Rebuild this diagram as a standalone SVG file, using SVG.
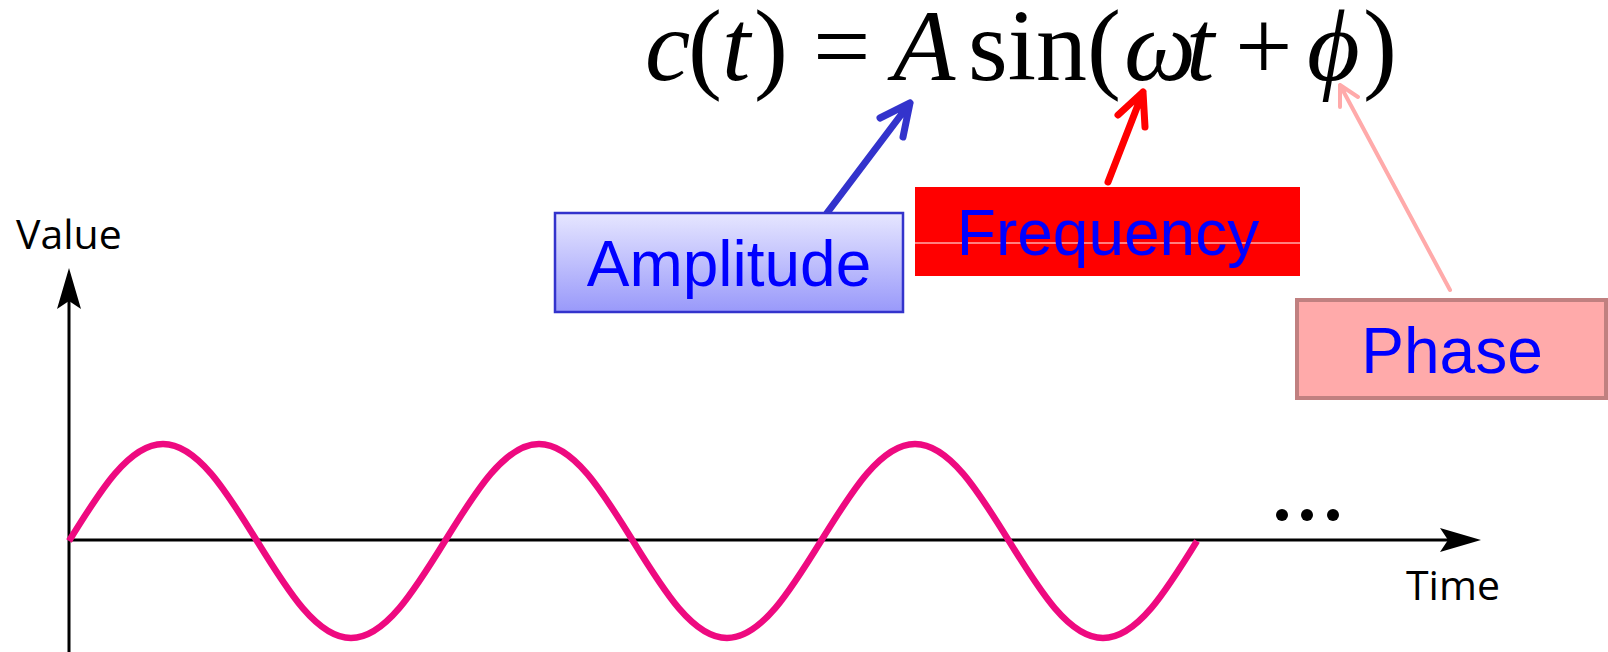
<svg xmlns="http://www.w3.org/2000/svg" width="1608" height="652" viewBox="0 0 1608 652">
<style>
.m{font-family:"Liberation Serif","DejaVu Serif",serif;font-size:102px;fill:#000}
.i{font-style:italic}
.lbl{font-family:"Liberation Sans",Arial,sans-serif;font-size:64px;fill:#0000ff;text-anchor:middle}
.ax{font-family:"Open Sans","DejaVu Sans",sans-serif;font-size:41px;fill:#000}
.axis{stroke:#000;stroke-width:3;fill:none}
.arr{fill:none;stroke-linecap:round;stroke-linejoin:round}
</style>
<defs>
<linearGradient id="gA" x1="0" y1="0" x2="0" y2="1">
<stop offset="0" stop-color="#e6e6ff"/>
<stop offset="1" stop-color="#9999fa"/>
</linearGradient>
</defs>
<rect width="1608" height="652" fill="#fff"/>
<g id="formula">
<text class="m" y="80"><tspan class="i" x="645">c</tspan><tspan x="688">(</tspan><tspan class="i" x="722">t</tspan><tspan x="754">)</tspan><tspan x="813">=</tspan><tspan class="i" x="893">A</tspan><tspan x="968">sin(</tspan><tspan class="i" x="1124">ω</tspan><tspan class="i" x="1186">t</tspan><tspan x="1235">+</tspan><tspan class="i" x="1307">ϕ</tspan><tspan x="1363">)</tspan></text>
</g>
<g id="axes">
<line class="axis" x1="69" y1="652" x2="69" y2="300"/>
<path d="M69,268 L81,309 L69,301 L57,309 Z" fill="#000"/>
<line class="axis" x1="69" y1="540" x2="1448" y2="540"/>
<path d="M1481,540 L1440,528 L1448,540 L1440,552 Z" fill="#000"/>
<text class="ax" x="16" y="249">Value</text>
<text class="ax" x="1406" y="600">Time</text>
<circle cx="1282" cy="515" r="6" fill="#000"/>
<circle cx="1307" cy="515" r="6" fill="#000"/>
<circle cx="1333" cy="515" r="6" fill="#000"/>
</g>
<g id="wave">
<path d="M69,541 c30.66,-49.69 59.98,-97 94,-97 s63.34,47.31 94,97 s59.98,97 94,97 s63.34,-47.31 94,-97 s59.98,-97 94,-97 s63.34,47.31 94,97 s59.98,97 94,97 s63.34,-47.31 94,-97 s59.98,-97 94,-97 s63.34,47.31 94,97 s59.98,97 94,97 s63.34,-47.31 94,-97" fill="none" stroke="#ee0a80" stroke-width="6.5"/>
</g>
<g id="connectors">
<path class="arr" d="M827,213 L910,103 M880,118 L910,103 L903,137" stroke="#3333cc" stroke-width="7"/>
<path class="arr" d="M1108,182 L1143,92 M1118,115 L1143,92 L1145,127" stroke="#ff0000" stroke-width="7"/>
<path class="arr" d="M1450,290 L1340,85 M1358,97 L1340,85 L1340,107" stroke="#ffaaaa" stroke-width="4"/>
</g>
<g id="amplitude">
<rect x="555" y="213" width="348" height="99" fill="url(#gA)" stroke="#3333cc" stroke-width="2.5"/>
<text class="lbl" x="729" y="286">Amplitude</text>
</g>
<g id="frequency">
<rect x="915" y="187" width="385" height="89" fill="#ff0000"/>
<line x1="915" y1="243" x2="1300" y2="243" stroke="#fff" stroke-width="1"/>
<text class="lbl" x="1108" y="255">Frequency</text>
</g>
<g id="phase">
<rect x="1297" y="300" width="309" height="98" fill="#ffaaaa" stroke="#c08080" stroke-width="4"/>
<text class="lbl" x="1452" y="373">Phase</text>
</g>
</svg>
